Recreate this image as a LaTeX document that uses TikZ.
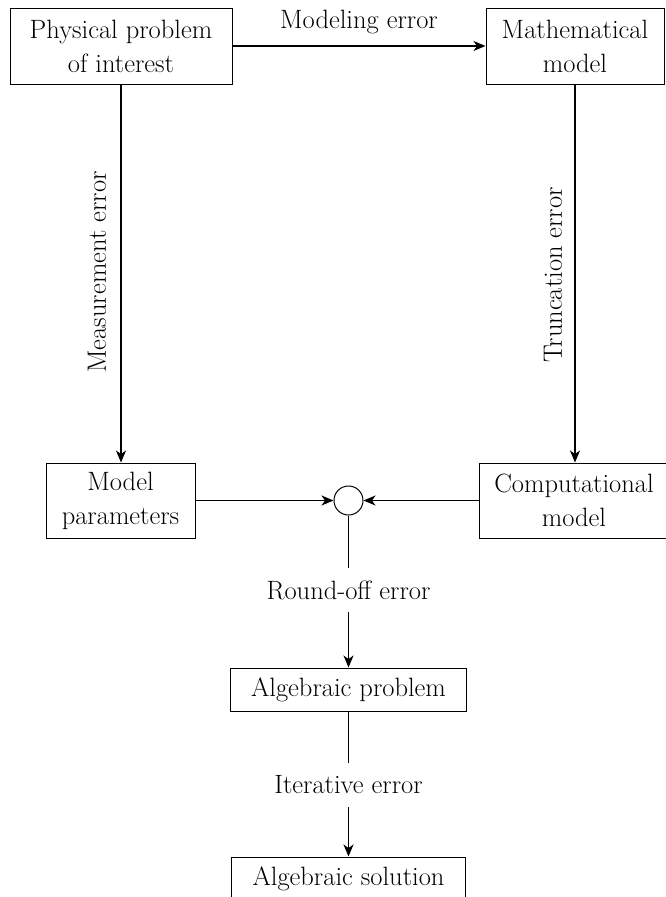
\documentclass[tikz,border=0pt]{standalone}
\usetikzlibrary{arrows.meta}
\begin{document}
\begin{tikzpicture}[x=1pt,y=-1pt,
  font=\fontsize{26.5}{34}\selectfont,
  box/.style={draw, line width=1pt, inner sep=0pt, align=center},
  lbl/.style={inner sep=0pt, align=center},
  conn/.style={line width=1.3pt},
  arr/.style={conn, -{Stealth[length=12pt,width=10pt,inset=3.5pt]}}]
\useasboundingbox (0,0) rectangle (665,897);
\node[box, minimum width=222pt, minimum height=76pt] (phys) at (121,46) {Physical problem\\of interest};
\node[box, minimum width=178pt, minimum height=76pt] (math) at (575,46) {Mathematical\\model};
\node[box, minimum width=149pt, minimum height=75pt] (par) at (120.5,500.5) {Model\\parameters};
\node[box, minimum width=190pt, minimum height=75pt] (comp) at (574,500.5) {Computational\\model};
\node[draw, circle, line width=1pt, minimum size=29pt, inner sep=0pt] (circ) at (348.5,500.5) {};
\node[box, minimum width=236pt, minimum height=43pt] (alg) at (348.5,689.5) {Algebraic problem};
\node[box, minimum width=234pt, minimum height=43pt] (sol) at (348.5,878.5) {Algebraic solution};
\node[lbl] (lmod) at (359,22) {Modeling error};
\node[lbl, rotate=90] (lmeas) at (97,272) {Measurement error};
\node[lbl, rotate=90] (ltrunc) at (553,275) {Truncation error};
\node[lbl, minimum height=44pt] (lround) at (348.5,590) {Round-off error};
\node[lbl, minimum height=44pt] (liter) at (348.5,785) {Iterative error};
\draw[arr] (phys) -- (math);
\draw[arr] (phys.south) -- (phys.south |- par.north);
\draw[arr] (math.south) -- (math.south |- comp.north);
\draw[arr] (par) -- (circ);
\draw[arr] (comp) -- (circ);
\draw[conn] (circ) -- (lround);
\draw[arr] (lround) -- (alg);
\draw[conn] (alg) -- (liter);
\draw[arr] (liter) -- (sol);
\end{tikzpicture}
\end{document}
